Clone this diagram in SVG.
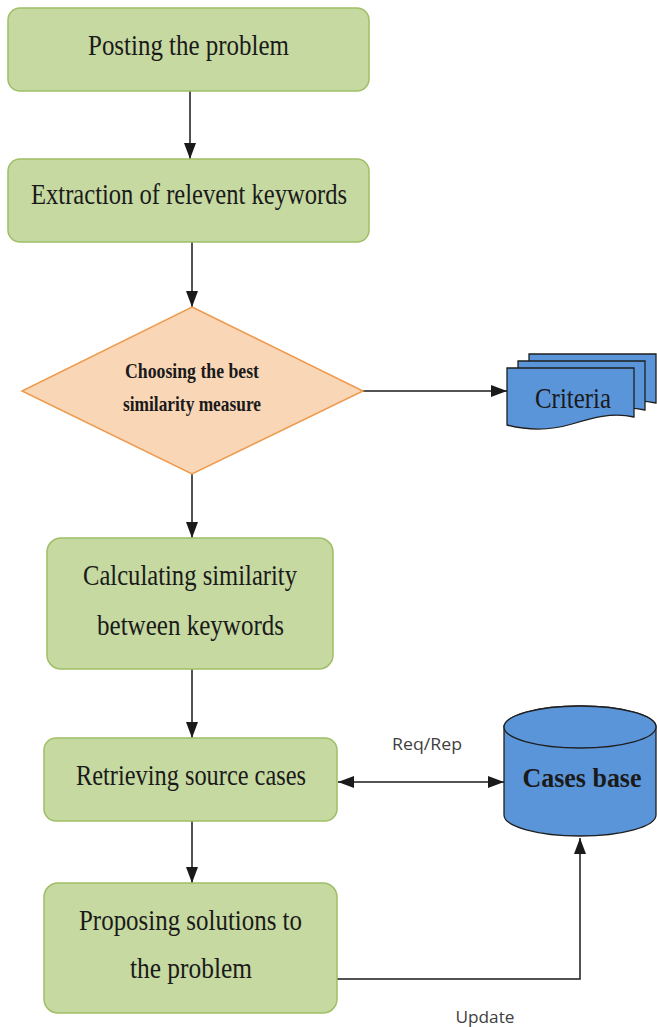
<svg xmlns="http://www.w3.org/2000/svg" width="657" height="1027" viewBox="0 0 657 1027">
<style>
.box{fill:#c6d9a1;stroke:#9fbe66;stroke-width:1.5}
.dia{fill:#f9d6b6;stroke:#ee9a4d;stroke-width:1.5}
.blue{fill:#5b95d9;stroke:#1f1f1f;stroke-width:1.3}
.t{font-family:"Liberation Serif","Times New Roman",serif;font-size:29px;fill:#1a1a1a;text-anchor:middle}
.tb{font-family:"Liberation Serif","Times New Roman",serif;font-weight:bold;fill:#1a1a1a;text-anchor:middle}
.lbl{font-family:"Open Sans","DejaVu Sans",sans-serif;font-size:17px;fill:#404040;text-anchor:middle}
.ln{fill:none;stroke:#1a1a1a;stroke-width:1.5}
</style>
<defs>
<marker id="ah" viewBox="0 0 16 12" refX="16" refY="6" markerWidth="16" markerHeight="12" markerUnits="userSpaceOnUse" orient="auto-start-reverse">
<path d="M0,0 L16,6 L0,12 Z" fill="#1a1a1a"/>
</marker>
</defs>
<rect width="657" height="1027" fill="#ffffff"/>
<g id="connectors">
<line class="ln" x1="190" y1="91" x2="190" y2="159" marker-end="url(#ah)"/>
<line class="ln" x1="192" y1="242" x2="192" y2="307" marker-end="url(#ah)"/>
<line class="ln" x1="192" y1="474" x2="192" y2="538" marker-end="url(#ah)"/>
<line class="ln" x1="363" y1="391" x2="507" y2="391" marker-end="url(#ah)"/>
<line class="ln" x1="192" y1="669" x2="192" y2="738" marker-end="url(#ah)"/>
<line class="ln" x1="192" y1="821" x2="192" y2="883" marker-end="url(#ah)"/>
<line class="ln" x1="338" y1="782" x2="504" y2="782" marker-start="url(#ah)" marker-end="url(#ah)"/>
<polyline class="ln" points="337,979 580,979 580,838" marker-end="url(#ah)"/>
<text class="lbl" x="427" y="750" textLength="70" lengthAdjust="spacingAndGlyphs">Req/Rep</text>
<text class="lbl" x="485" y="1023" textLength="59" lengthAdjust="spacingAndGlyphs">Update</text>
</g>
<g id="n1">
<rect class="box" x="8" y="8" width="361" height="83" rx="12"/>
<text class="t" x="188.5" y="55" textLength="201" lengthAdjust="spacingAndGlyphs">Posting the problem</text>
</g>
<g id="n2">
<rect class="box" x="8" y="159" width="361" height="83" rx="12"/>
<text class="t" x="189" y="204" textLength="316" lengthAdjust="spacingAndGlyphs">Extraction of relevent keywords</text>
</g>
<g id="n3">
<polygon class="dia" points="192,307 363,391 192,474 22,391"/>
<text class="tb" x="192" y="378" font-size="21" textLength="134" lengthAdjust="spacingAndGlyphs">Choosing the best</text>
<text class="tb" x="192" y="411" font-size="21" textLength="138" lengthAdjust="spacingAndGlyphs">similarity measure</text>
</g>
<g id="n4">
<path class="blue" d="M529,354 H656 V403 C634,398 614,404 594,410 C574,416 552,417 529,411 Z"/>
<path class="blue" d="M518,361 H645 V410 C623,405 603,411 583,417 C563,423 541,424 518,418 Z"/>
<path class="blue" d="M507,368 H634 V417 C612,412 592,418 572,424 C552,430 530,431 507,425 Z"/>
<text class="t" x="573" y="408" textLength="76" lengthAdjust="spacingAndGlyphs">Criteria</text>
</g>
<g id="n5">
<rect class="box" x="47" y="538" width="286" height="131" rx="14"/>
<text class="t" x="190" y="585" textLength="214" lengthAdjust="spacingAndGlyphs">Calculating similarity</text>
<text class="t" x="190.5" y="635" textLength="187" lengthAdjust="spacingAndGlyphs">between keywords</text>
</g>
<g id="n6">
<rect class="box" x="44" y="738" width="293" height="83" rx="12"/>
<text class="t" x="191" y="785" textLength="230" lengthAdjust="spacingAndGlyphs">Retrieving source cases</text>
</g>
<g id="n7">
<path class="blue" d="M504,727 V815 A76,21 0 0 0 656,815 V727 A76,21 0 0 0 504,727 Z"/>
<ellipse class="blue" cx="580" cy="727" rx="76" ry="21"/>
<text class="tb" x="582" y="787" font-size="28" textLength="119" lengthAdjust="spacingAndGlyphs">Cases base</text>
</g>
<g id="n8">
<rect class="box" x="44" y="883" width="293" height="130" rx="14"/>
<text class="t" x="190.5" y="930" textLength="223" lengthAdjust="spacingAndGlyphs">Proposing solutions to</text>
<text class="t" x="191" y="978" textLength="122" lengthAdjust="spacingAndGlyphs">the problem</text>
</g>
</svg>
